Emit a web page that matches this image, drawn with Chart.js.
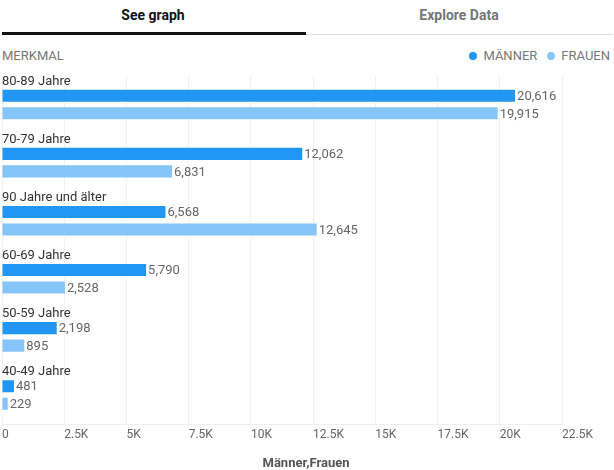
<!DOCTYPE html>
<html>
<head>
<meta charset="utf-8">
<script src="https://cdn.jsdelivr.net/npm/chart.js@4"></script>
<style>
  html, body { margin: 0; padding: 0; background: #fff; }
  body { width: 614px; height: 470px; position: relative; overflow: hidden; font-family: Roboto, "Noto Sans", sans-serif; }
  #chart { position: absolute; left: 0; top: 0; }
  .tab { position: absolute; top: 0; height: 30px; line-height: 30px; text-align: center; font-weight: bold; font-size: 14px; }
  #tab1 { left: 0; width: 306px; color: #111; }
  #tab2 { left: 306px; width: 306px; color: #757575; }
  #bar1 { position: absolute; left: 2px; top: 32px; width: 304px; height: 3px; background: #111; }
  #bar2 { position: absolute; left: 306px; top: 34px; width: 307px; height: 1px; background: #dcdcdc; }
  #merkmal { position: absolute; left: 2px; top: 48px; font-size: 13px; color: #777; line-height: 16px; }
  #legend { position: absolute; right: 4px; top: 48px; font-size: 13px; color: #777; line-height: 16px; display: flex; }
  .li { display: flex; align-items: center; margin-left: 10px; }
  .dot { width: 8px; height: 8px; border-radius: 50%; margin-right: 6px; }
  #axtitle { position: absolute; left: 0; width: 612px; top: 455px; text-align: center; font-size: 13px; font-weight: bold; color: #555; line-height: 16px; }
</style>
</head>
<body>
<div id="tab1" class="tab">See graph</div>
<div id="tab2" class="tab">Explore Data</div>
<div id="bar1"></div>
<div id="bar2"></div>
<div id="merkmal">MERKMAL</div>
<div id="legend"></div>
<canvas id="chart" width="614" height="470"></canvas>
<div id="axtitle"></div>
<script>
const categories = ["80-89 Jahre", "70-79 Jahre", "90 Jahre und älter", "60-69 Jahre", "50-59 Jahre", "40-49 Jahre"];
const seriesNames = ["MÄNNER", "FRAUEN"];
const maenner = [20616, 12062, 6568, 5790, 2198, 481];
const frauen = [19915, 6831, 12645, 2528, 895, 229];
const seriesColors = ["#2196F3", "#85C5FA"];
const xTicks = [0, 2500, 5000, 7500, 10000, 12500, 15000, 17500, 20000, 22500];
const xTickLabels = ["0", "2.5K", "5K", "7.5K", "10K", "12.5K", "15K", "17.5K", "20K", "22.5K"];
const axisTitle = "Männer,Frauen";

document.getElementById('axtitle').textContent = axisTitle;

// HTML legend
const legendEl = document.getElementById('legend');
seriesNames.forEach((n, i) => {
  const li = document.createElement('div');
  li.className = 'li';
  const d = document.createElement('span');
  d.className = 'dot';
  d.style.background = seriesColors[i];
  const t = document.createElement('span');
  t.textContent = n;
  li.appendChild(d); li.appendChild(t);
  legendEl.appendChild(li);
});

const labelPlugin = {
  id: 'labelPlugin',
  afterDatasetsDraw(chart) {
    const ctx = chart.ctx;
    const area = chart.chartArea;
    ctx.save();
    const meta0 = chart.getDatasetMeta(0);
    ctx.font = '13px Roboto';
    ctx.fillStyle = '#333';
    ctx.textAlign = 'left';
    ctx.textBaseline = 'alphabetic';
    meta0.data.forEach((bar, i) => {
      ctx.fillText(categories[i], area.left, bar.y - bar.height / 2 - 5);
    });
    ctx.fillStyle = '#666';
    ctx.textBaseline = 'middle';
    chart.data.datasets.forEach((ds, di) => {
      const meta = chart.getDatasetMeta(di);
      meta.data.forEach((bar, i) => {
        ctx.fillText(ds.data[i].toLocaleString('en-US'), bar.x + 2, bar.y + 1);
      });
    });
    ctx.restore();
  }
};

new Chart(document.getElementById('chart'), {
  type: 'bar',
  data: {
    labels: categories,
    datasets: [
      { label: seriesNames[0], data: maenner, backgroundColor: seriesColors[0] },
      { label: seriesNames[1], data: frauen, backgroundColor: seriesColors[1] }
    ]
  },
  options: {
    indexAxis: 'y',
    responsive: false,
    animation: false,
    devicePixelRatio: 1,
    categoryPercentage: 0.603,
    barPercentage: 0.686,
    layout: { padding: { top: 75.5, left: 2, right: 52, bottom: 27.6 } },
    scales: {
      y: { display: false },
      x: {
        min: 0, max: 22500,
        afterBuildTicks(scale) { scale.ticks = xTicks.map(v => ({ value: v })); },
        grid: { color: '#f1f1f1', drawTicks: true, tickLength: 4, tickColor: 'rgba(0,0,0,0)' },
        border: { color: '#eeeeee' },
        ticks: {
          align: 'start',
          padding: 0,
          color: '#666',
          font: { family: 'Roboto', size: 12 },
          callback: (v) => { const k = xTicks.indexOf(v); return k >= 0 ? xTickLabels[k] : ''; }
        }
      }
    },
    plugins: {
      legend: { display: false },
      tooltip: { enabled: false }
    }
  },
  plugins: [labelPlugin]
});
</script>
</body>
</html>
